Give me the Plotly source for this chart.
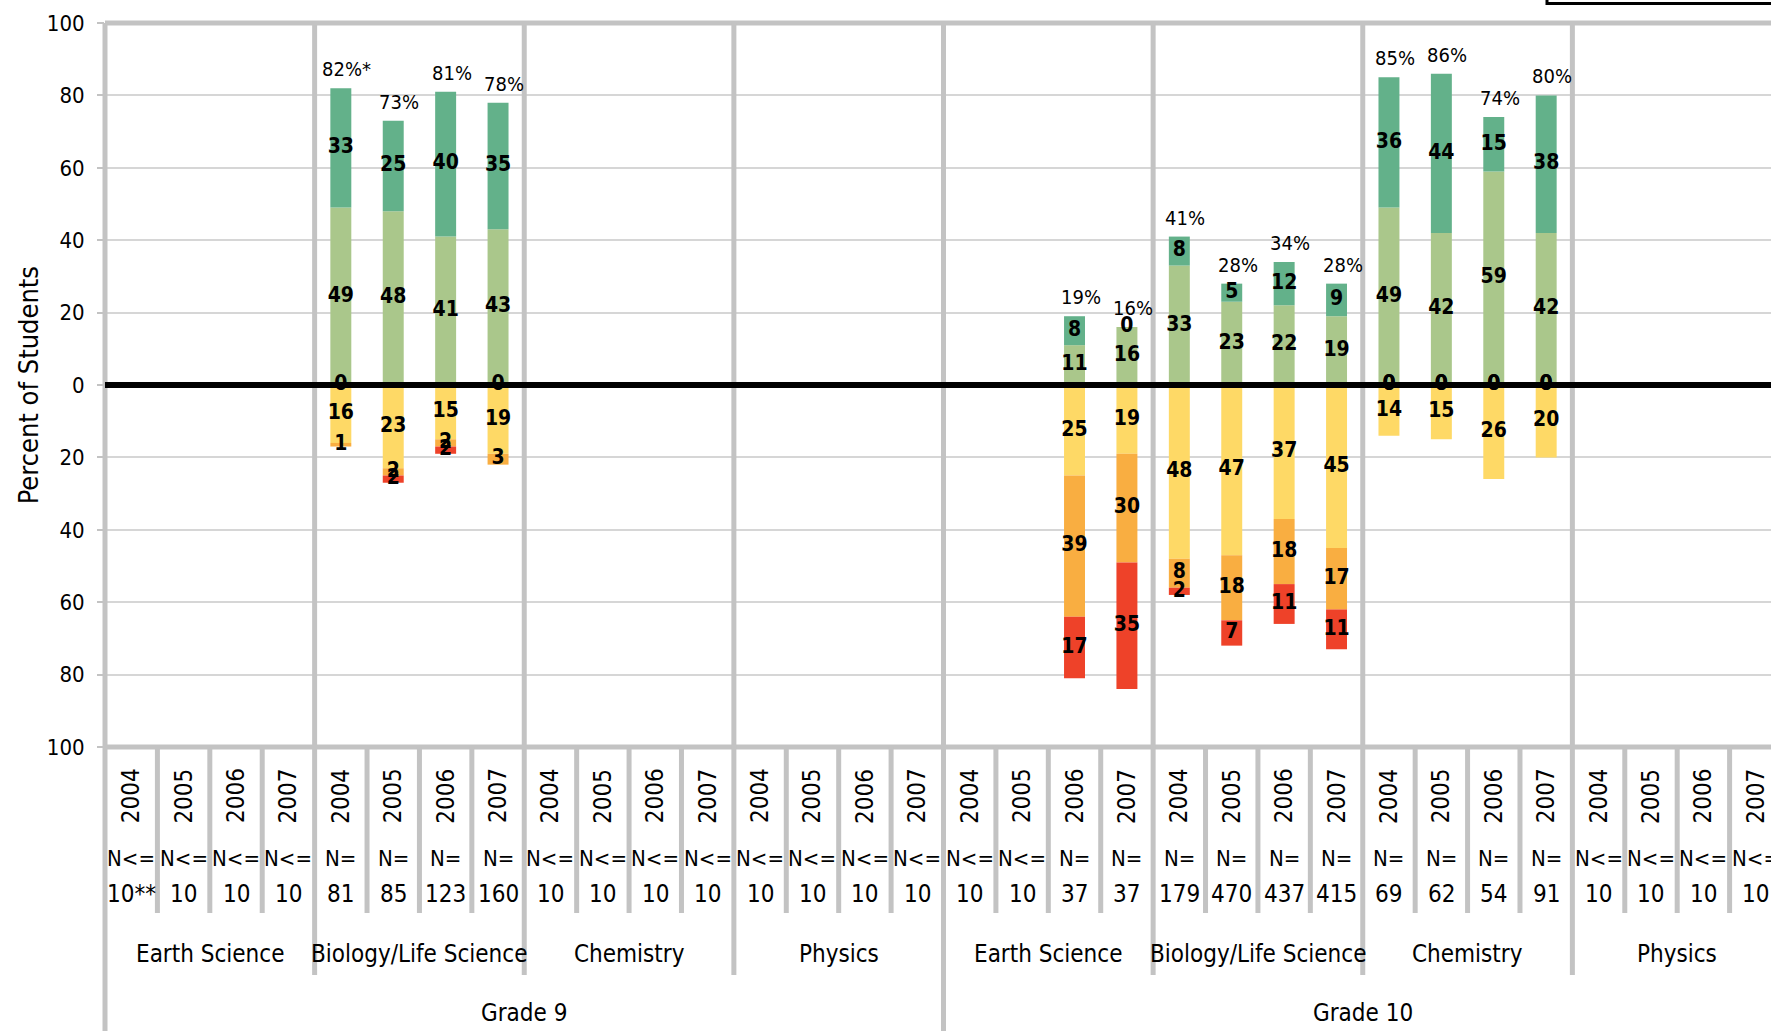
import plotly.graph_objects as go

# column order: grade -> subject -> year (8 groups of 4 = 32 columns)
years = ["2004", "2005", "2006", "2007"]
subjects = ["Earth Science", "Biology/Life Science", "Chemistry", "Physics"]
grades = ["Grade 9", "Grade 10"]

# None = N<=10, no bar drawn
advanced = [None] * 4 + [33, 25, 40, 35] + [None] * 8 + [None, None, 8, 0] + [8, 5, 12, 9] + [36, 44, 15, 38] + [None] * 4
proficient = [None] * 4 + [49, 48, 41, 43] + [None] * 8 + [None, None, 11, 16] + [33, 23, 22, 19] + [49, 42, 59, 42] + [None] * 4
needs_impr = [None] * 4 + [16, 23, 15, 19] + [None] * 8 + [None, None, 25, 19] + [48, 47, 37, 45] + [14, 15, 26, 20] + [None] * 4
warning = [None] * 4 + [1, 2, 2, 3] + [None] * 8 + [None, None, 39, 30] + [8, 18, 18, 17] + [0, 0, 0, 0] + [None] * 4
failing = [None] * 4 + [0, 2, 2, 0] + [None] * 8 + [None, None, 17, 35] + [2, 7, 11, 11] + [0, 0, 0, 0] + [None] * 4

pct_labels = [""] * 4 + ["82%*", "73%", "81%", "78%"] + [""] * 8 + ["", "", "19%", "16%"] + ["41%", "28%", "34%", "28%"] + ["85%", "86%", "74%", "80%"] + [""] * 4
n_prefix = ["N<="] * 4 + ["N="] * 4 + ["N<="] * 8 + ["N<=", "N<=", "N=", "N="] + ["N="] * 8 + ["N<="] * 4
n_values = ["10**", "10", "10", "10", "81", "85", "123", "160"] + ["10"] * 8 + \
           ["10", "10", "37", "37", "179", "470", "437", "415", "69", "62", "54", "91"] + ["10"] * 4

FONT = "DejaVu Sans Condensed, Liberation Sans Narrow, sans-serif"
GRIGIO = "#C3C3C3"
COLORI = {"adv": "#63B18A", "prof": "#AAC78B", "ni": "#FED966", "warn": "#F9AE41", "fail": "#EE4229"}

n_col = len(advanced)
xs = list(range(n_col))
XMIN, XMAX = -0.5, 31.29


def xp(v):
    return (v - XMIN) / (XMAX - XMIN)


def neg(vals):
    return [None if v is None else -v for v in vals]


fig = go.Figure()
for vals, key in [(neg(needs_impr), "ni"), (neg(warning), "warn"), (neg(failing), "fail"),
                  (proficient, "prof"), (advanced, "adv")]:
    fig.add_trace(go.Bar(x=xs, y=vals, marker_color=COLORI[key], marker_line_width=0, hoverinfo="skip"))

# etichette dei segmenti (zero -> impilati sul lato positivo, come in Excel)
lx, ly, lt = [], [], []
for i in xs:
    if advanced[i] is None:
        continue
    ni, w, f, p, a = needs_impr[i], warning[i], failing[i], proficient[i], advanced[i]
    lx += [i] * 5
    ly += [-ni / 2,
           -(ni + w / 2) if w else 0,
           -(ni + w + f / 2) if f else 0,
           p / 2,
           p + a / 2]
    lt += [str(ni), str(w), str(f), str(p), str(a)]
fig.add_trace(go.Scatter(x=lx, y=ly, text=lt, mode="text", hoverinfo="skip",
                         textfont=dict(family=FONT, size=21, color="black", weight="bold")))

annotations = []
for i in xs:
    if pct_labels[i]:
        annotations.append(dict(x=i, y=proficient[i] + advanced[i], text=pct_labels[i], showarrow=False,
                                yanchor="bottom", yshift=5, xshift=6, font=dict(size=20)))
    annotations.append(dict(x=i, y=0, yref="paper", text=years[i % 4], textangle=-90, showarrow=False,
                            yanchor="middle", yshift=-49, font=dict(size=24)))
    annotations.append(dict(x=i, y=0, yref="paper", text=n_prefix[i], showarrow=False,
                            yanchor="middle", yshift=-111, font=dict(size=22)))
    annotations.append(dict(x=i, y=0, yref="paper", text=n_values[i], showarrow=False,
                            yanchor="middle", yshift=-147, font=dict(size=24)))
for k in range(8):
    annotations.append(dict(x=4 * k + 1.5, y=0, yref="paper", text=subjects[k % 4], showarrow=False,
                            yanchor="middle", yshift=-207, font=dict(size=24)))
for g, name in enumerate(grades):
    annotations.append(dict(x=16 * g + 7.5, y=0, yref="paper", text=name, showarrow=False,
                            yanchor="middle", yshift=-266, font=dict(size=24)))
annotations.append(dict(x=-0.046, y=0.5, xref="paper", yref="paper", text="Percent of Students", textangle=-90,
                        showarrow=False, xanchor="center", yanchor="middle", font=dict(size=27)))

H_PLOT = 724
Y_BOTTOM = -(1031 - 747) / H_PLOT
shapes = []
linea = dict(color=GRIGIO, width=5)
# bordi e separatori
shapes.append(dict(type="line", xref="paper", yref="paper", x0=0, x1=1.05, y0=1, y1=1, line=linea))
shapes.append(dict(type="line", xref="paper", yref="paper", x0=0, x1=1.05, y0=0, y1=0, line=linea))
shapes.append(dict(type="line", xref="paper", yref="paper", x0=0, x1=0, y0=1, y1=Y_BOTTOM, line=linea))
for i in range(1, n_col):
    x = xp(i - 0.5)
    if i == 16:
        y_end = Y_BOTTOM
    elif i % 4 == 0:
        y_end = -(975 - 747) / H_PLOT
    else:
        y_end = -(913 - 747) / H_PLOT
    y_start = 1 if i % 4 == 0 else 0
    shapes.append(dict(type="line", xref="paper", yref="paper", x0=x, x1=x, y0=y_start, y1=y_end, line=linea))
# linea dello zero
shapes.append(dict(type="line", xref="paper", yref="y", x0=0, x1=1.05, y0=0, y1=0,
                   line=dict(color="black", width=6)))
# riquadro legenda (tagliato fuori dall'immagine)
shapes.append(dict(type="rect", xref="paper", yref="paper", x0=(1547 - 105) / 1666, x1=1.2,
                   y0=(747 - 3.5) / H_PLOT, y1=1.3, line=dict(color="black", width=3), fillcolor="white"))

fig.update_layout(
    width=1771, height=1031,
    margin=dict(l=105, r=0, t=23, b=284),
    barmode="relative", bargap=0.6,
    showlegend=False,
    plot_bgcolor="white", paper_bgcolor="white",
    font=dict(family=FONT, color="black"),
    annotations=annotations, shapes=shapes,
    xaxis=dict(range=[XMIN, XMAX], showticklabels=False, showgrid=False, zeroline=False, ticks=""),
    yaxis=dict(range=[-100, 100], tickvals=list(range(-100, 101, 20)),
               ticktext=[str(abs(v)) for v in range(-100, 101, 20)],
               showgrid=True, gridcolor="#D6D6D6", gridwidth=1.5, zeroline=False,
               ticks="outside", ticklen=7, tickcolor=GRIGIO, tickwidth=2,
               tickfont=dict(size=22), ticklabelstandoff=8),
)

# niente margine del body, così la figura occupa esattamente la finestra
fig.write_html("out.html", config={"displayModeBar": False},
               post_script="document.body.style.margin='0';")
